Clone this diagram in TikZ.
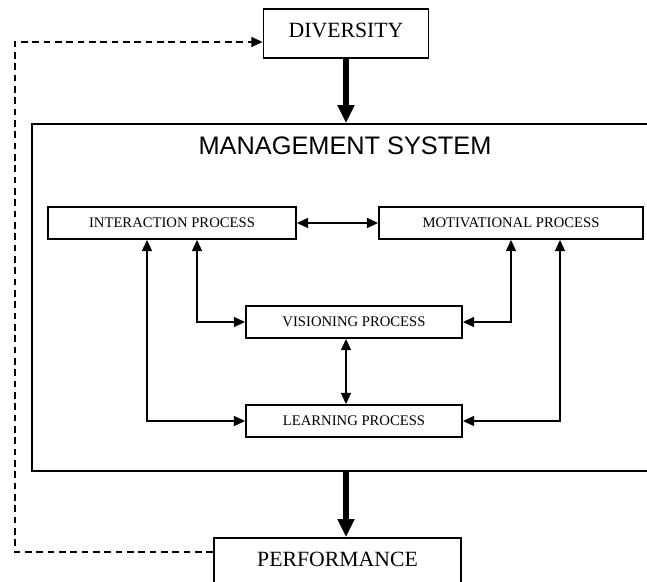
\documentclass[tikz,border=0pt]{standalone}
\usepackage{fontspec}
\setmainfont{Liberation Serif}
\newfontfamily\sysfont{Liberation Sans}
\usetikzlibrary{arrows.meta}
\tikzset{every picture/.style={line width=1.3pt}}
\tikzset{
  procbox/.style={draw, inner sep=0pt, font=\fontsize{11}{13}\selectfont},
  endbox/.style={draw, inner sep=0pt, text depth=5pt, font=\fontsize{16.3}{19}\selectfont},
  thinarrow/.style={{Triangle[length=8.5pt,width=7.5pt]}-{Triangle[length=8.5pt,width=7.5pt]}},
  bigarrow/.style={line width=4.5pt, -{Triangle[length=13.5pt,width=12pt]}},
  fbline/.style={line width=1.1pt, dash pattern={on 5pt off 3.5pt}, -{Triangle[length=8.5pt,width=7.5pt]}}
}

\begin{document}
\begin{tikzpicture}[x=0.75pt,y=0.75pt,yscale=-1,xscale=1]
\useasboundingbox (0,0) rectangle (647,582);

%Shape: Rectangle [management system]
\node[draw, minimum width=471pt, minimum height=260.25pt, inner sep=0pt] (mgmt) at (346,297.5) {};
\node[font=\sysfont\fontsize{19}{22}\selectfont, inner sep=0pt] (title) at (345,146) {MANAGEMENT SYSTEM};

%Shape: Rectangle [ends]
\node[endbox, minimum width=123.75pt, minimum height=36.75pt] (div) at (346,33.5) {DIVERSITY};
\node[endbox, minimum width=185.25pt, minimum height=36.75pt] (perf) at (337.5,562.5) {PERFORMANCE};

%Shape: Rectangle [processes]
\node[procbox, minimum width=186pt, minimum height=24pt] (int) at (172,223) {INTERACTION PROCESS};
\node[procbox, minimum width=198pt, minimum height=24pt] (mot) at (511,223) {MOTIVATIONAL PROCESS};
\node[procbox, minimum width=162pt, minimum height=24pt] (vis) at (354,322) {VISIONING PROCESS};
\node[procbox, minimum width=162pt, minimum height=24pt] (lrn) at (354,421) {LEARNING PROCESS};

%Columns of the elbow lines
\coordinate (colA) at (147,0);
\coordinate (colB) at (197,0);
\coordinate (colC) at (511,0);
\coordinate (colD) at (560,0);
%Feedback corners
\coordinate (fbtop) at (15,42);
\coordinate (fbbot) at (15,552);

%Thick Arrows
\draw[bigarrow] (div.south) -- (div.south |- mgmt.north);
\draw[bigarrow] (div |- mgmt.south) -- (div |- perf.north);

%Straight Lines
\draw[thinarrow] (int) -- (mot);
\draw[thinarrow] (vis.south -| div) -- (lrn.north -| div);
%Elbow Lines
\draw[thinarrow] (int.south -| colA) |- (lrn.west);
\draw[thinarrow] (int.south -| colB) |- (vis.west);
\draw[thinarrow] (mot.south -| colC) |- (vis.east);
\draw[thinarrow] (mot.south -| colD) |- (lrn.east);

%Dashed Lines
\draw[fbline] (perf.west |- fbbot) -- (fbbot) -- (fbtop) -- (fbtop -| div.west);
\end{tikzpicture}
\end{document}
